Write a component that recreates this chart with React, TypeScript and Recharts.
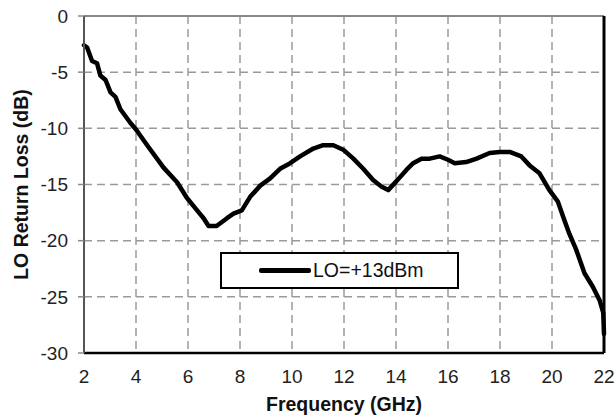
import React from 'react';
import { LineChart, Line, XAxis, YAxis, CartesianGrid, ReferenceLine, Label } from 'recharts';

const freqGHz = [
  2.0, 2.12, 2.31, 2.5, 2.63, 2.83, 3.02, 3.21, 3.4, 3.78, 4.0, 4.43, 5.06, 5.58, 5.96, 6.35, 6.6, 6.79,
  7.1, 7.5, 7.75, 8.07, 8.39, 8.78, 9.16, 9.54, 9.93, 10.31, 10.82, 11.2, 11.59, 11.97, 12.36, 12.74,
  13.12, 13.45, 13.7, 14.02, 14.4, 14.66, 14.98, 15.3, 15.68, 16.0, 16.26, 16.7, 17.1, 17.6, 17.99,
  18.37, 18.82, 19.14, 19.52, 19.9, 20.22, 20.48, 20.67, 20.93, 21.25, 21.57, 21.83, 21.97, 22.0,
];
const returnLossDb = [
  -2.6, -2.8, -4.0, -4.2, -5.3, -5.7, -6.8, -7.2, -8.3, -9.5, -10.1, -11.5, -13.5, -14.8, -16.2, -17.3, -18.0, -18.7,
  -18.7, -18.0, -17.6, -17.3, -16.1, -15.1, -14.45, -13.6, -13.1, -12.5, -11.8, -11.5, -11.5, -11.9, -12.7, -13.6,
  -14.6, -15.2, -15.5, -14.7, -13.7, -13.1, -12.7, -12.7, -12.5, -12.8, -13.1, -13.0, -12.7, -12.2, -12.1,
  -12.1, -12.5, -13.3, -14.0, -15.5, -16.5, -18.2, -19.4, -20.8, -22.9, -24.1, -25.3, -26.4, -28.3,
];
const xTicks = [2, 4, 6, 8, 10, 12, 14, 16, 18, 20, 22];
const yTicks = [0, -5, -10, -15, -20, -25, -30];
const seriesName = 'LO=+13dBm';

const data = freqGHz.map((f, i) => ({ f, db: returnLossDb[i] }));

const font = '"Liberation Sans", Arial, sans-serif';

export default function App() {
  return (
    <div style={{ position: 'absolute', left: 0, top: 0, width: 614, height: 417, fontFamily: font }}>
      <LineChart width={614} height={417} data={data} margin={{ top: 16, right: 10, left: 0, bottom: 0 }}>
        <CartesianGrid stroke="#9a9a9a" strokeWidth={1.5} strokeDasharray="8 5" />
        <XAxis
          dataKey="f"
          type="number"
          domain={[2, 22]}
          ticks={xTicks}
          height={64}
          tickSize={0}
          tickMargin={17}
          axisLine={{ stroke: '#000', strokeWidth: 2.5 }}
          tick={{ fill: '#222', fontSize: 19, fontFamily: font }}
        >
          <Label
            content={({ viewBox }: any) => (
              <text
                x={viewBox.x + viewBox.width / 2}
                y={viewBox.y + 58}
                textAnchor="middle"
                fontSize={19.5}
                fontWeight="bold"
                fontFamily={font}
                fill="#111"
              >
                Frequency (GHz)
              </text>
            )}
          />
        </XAxis>
        <YAxis
          type="number"
          domain={[-30, 0]}
          ticks={yTicks}
          width={84}
          tickSize={6}
          tickMargin={10}
          axisLine={{ stroke: '#555', strokeWidth: 2 }}
          tickLine={{ stroke: '#888', strokeWidth: 1.5 }}
          tick={{ fill: '#222', fontSize: 19, fontFamily: font }}
        >
          <Label
            content={({ viewBox }: any) => {
              const cx = 20.5;
              const cy = viewBox.y + viewBox.height / 2;
              return (
                <text
                  x={cx}
                  y={cy}
                  transform={`rotate(-90, ${cx}, ${cy})`}
                  textAnchor="middle"
                  dominantBaseline="central"
                  fontSize={19.5}
                  fontWeight="bold"
                  fontFamily={font}
                  fill="#111"
                >
                  LO Return Loss (dB)
                </text>
              );
            }}
          />
        </YAxis>
        <ReferenceLine y={0} stroke="#888" strokeWidth={2} />
        <ReferenceLine x={22} stroke="#000" strokeWidth={3} />
        <Line
          type="linear"
          dataKey="db"
          name={seriesName}
          stroke="#000"
          strokeWidth={4.5}
          strokeLinejoin="round"
          strokeLinecap="round"
          dot={false}
          isAnimationActive={false}
        />
      </LineChart>
      <div
        style={{
          position: 'absolute',
          left: 220,
          top: 252,
          width: 239,
          height: 37,
          boxSizing: 'border-box',
          border: '2px solid #000',
          background: '#fff',
          display: 'flex',
          alignItems: 'center',
        }}
      >
        <div style={{ marginLeft: 37, width: 52, height: 5, background: '#000', borderRadius: 2 }} />
        <span style={{ marginLeft: 2, fontSize: 19.5, color: '#111', fontFamily: font }}>{seriesName}</span>
      </div>
    </div>
  );
}
